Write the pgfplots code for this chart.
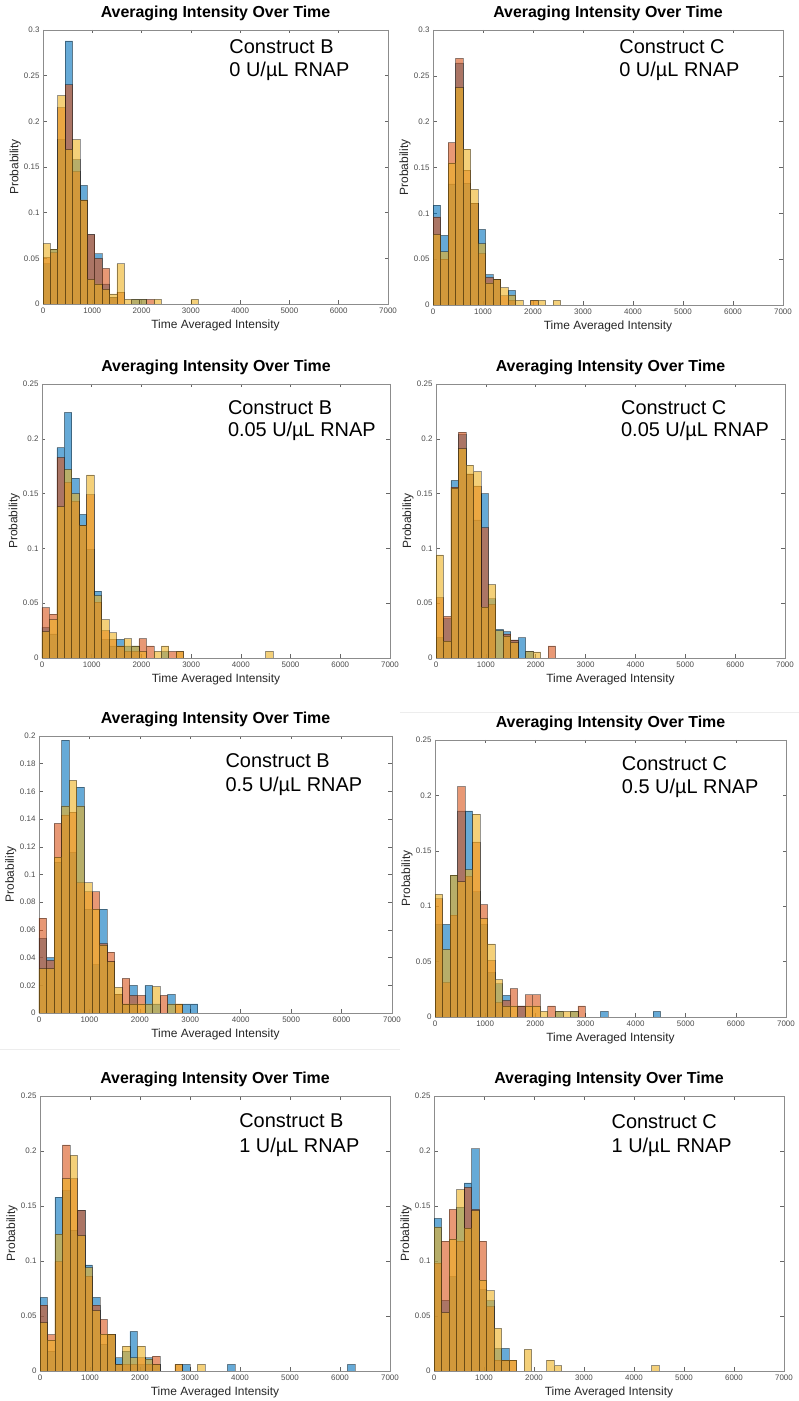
\documentclass[border=0pt]{standalone}
\usepackage{fontspec}
\setmainfont{Liberation Sans}
\usepackage{pgfplots}
\pgfplotsset{compat=1.18}
\definecolor{mblue}{rgb}{0,0.447,0.741}
\definecolor{mred}{rgb}{0.85,0.325,0.098}
\definecolor{myel}{rgb}{0.929,0.694,0.125}
\pgfplotsset{
 hb/.style={ybar, bar width=150, bar shift=0pt, fill opacity=0.6, draw=black, draw opacity=0.4, line width=0.7bp},
 panel/.style={scale only axis, anchor=south west, xmin=0, xmax=7000, ymin=0,
  xtick={0,1000,2000,3000,4000,5000,6000,7000},
  xticklabels={0,1000,2000,3000,4000,5000,6000,7000},
  tick align=inside, major tick length=3.5bp,
  tick style={black!60, line width=0.5bp},
  axis line style={black!45, line width=0.7bp},
  ticklabel style={font=\fontsize{8}{8}\selectfont, text=black!70},
  title={Averaging Intensity Over Time},
  title style={font=\bfseries\fontsize{16}{16}\selectfont, at={(axis description cs:0.5,1)}, anchor=center, yshift=11bp},
  xlabel={Time Averaged Intensity},
  xlabel style={font=\fontsize{12}{12}\selectfont, at={(axis description cs:0.5,0)}, anchor=center, yshift=-21bp, text=black!85},
  ylabel={Probability},
  ylabel style={font=\fontsize{12}{12}\selectfont, at={(axis description cs:-0.08,0.5)}, anchor=center, text=black!85},
 },
 yA/.style={ymax=0.3, ytick={0,0.05,0.1,0.15,0.2,0.25,0.3}, yticklabels={0,0.05,0.1,0.15,0.2,0.25,0.3}},
 yB/.style={ymax=0.25, ytick={0,0.05,0.1,0.15,0.2,0.25}, yticklabels={0,0.05,0.1,0.15,0.2,0.25}},
 yC/.style={ymax=0.2, ytick={0,0.02,0.04,0.06,0.08,0.1,0.12,0.14,0.16,0.18,0.2}, yticklabels={0,0.02,0.04,0.06,0.08,0.1,0.12,0.14,0.16,0.18,0.2}},
}
\newcommand{\ann}[5]{%
 \node[anchor=base west, inner sep=0pt, font=\fontsize{20}{20}\selectfont] at (rel axis cs:#1,#2) {#4};
 \node[anchor=base west, inner sep=0pt, font=\fontsize{20}{20}\selectfont] at (rel axis cs:#1,#3) {#5};}
\begin{document}
\begin{tikzpicture}
\useasboundingbox (0bp,0bp) rectangle (799bp,1401bp);
\draw[black!7, line width=1bp] (400bp,688bp) -- (799bp,688bp);
\draw[black!7, line width=1bp] (0bp,351bp) -- (400bp,351bp);

% ---------- Panel 1: Construct B, 0 U/uL ----------
\begin{axis}[panel, yA, at={(43bp,1097bp)}, width=345bp, height=274bp]
\addplot[hb, fill=mblue] coordinates {(75,0.044) (225,0.060) (375,0.180) (525,0.288) (675,0.158) (825,0.130) (975,0.076) (1125,0.055) (1275,0.022) (1425,0.007) (1875,0.005) (2025,0.005)};
\addplot[hb, fill=mred] coordinates {(75,0.051) (225,0.056) (375,0.215) (525,0.240) (675,0.145) (825,0.114) (975,0.076) (1125,0.050) (1275,0.039) (1425,0.007) (1575,0.013) (2175,0.005)};
\addplot[hb, fill=myel] coordinates {(75,0.066) (225,0.060) (375,0.228) (525,0.169) (675,0.180) (825,0.114) (975,0.027) (1125,0.022) (1275,0.016) (1425,0.011) (1575,0.044) (1725,0.005) (1875,0.005) (2025,0.005) (2325,0.005) (3075,0.005)};
\ann{0.540}{0.915}{0.830}{Construct B}{0 U/µL RNAP}
\end{axis}

% ---------- Panel 2: Construct C, 0 U/uL ----------
\begin{axis}[panel, yA, at={(433bp,1096bp)}, width=350bp, height=275bp]
\addplot[hb, fill=mblue] coordinates {(75,0.109) (225,0.076) (375,0.132) (525,0.264) (675,0.133) (825,0.111) (975,0.0825) (1125,0.033) (1275,0.028) (1575,0.016)};
\addplot[hb, fill=mred] coordinates {(75,0.096) (225,0.050) (375,0.177) (525,0.269) (675,0.147) (825,0.111) (975,0.056) (1125,0.030) (1275,0.028) (1425,0.010) (1575,0.005) (2025,0.005)};
\addplot[hb, fill=myel] coordinates {(75,0.077) (225,0.058) (375,0.155) (525,0.237) (675,0.170) (825,0.126) (975,0.067) (1125,0.024) (1275,0.028) (1425,0.019) (1575,0.011) (1725,0.005) (2025,0.005) (2175,0.005) (2475,0.005)};
\ann{0.532}{0.915}{0.830}{Construct C}{0 U/µL RNAP}
\end{axis}

% ---------- Panel 3: Construct B, 0.05 U/uL ----------
\begin{axis}[panel, yB, at={(42bp,743bp)}, width=348bp, height=274bp]
\addplot[hb, fill=mblue] coordinates {(75,0.028) (225,0.022) (375,0.192) (525,0.224) (675,0.164) (825,0.131) (975,0.099) (1125,0.061) (1275,0.017) (1425,0.011) (1575,0.017) (1725,0.011) (1875,0.011) (2475,0.006)};
\addplot[hb, fill=mred] coordinates {(75,0.046) (225,0.040) (375,0.183) (525,0.160) (675,0.143) (825,0.121) (975,0.149) (1125,0.051) (1275,0.025) (1425,0.017) (1575,0.011) (1725,0.006) (1875,0.006) (2025,0.0176) (2175,0.011) (2625,0.006) (2775,0.006)};
\addplot[hb, fill=myel] coordinates {(75,0.024) (225,0.035) (375,0.138) (525,0.172) (675,0.150) (825,0.121) (975,0.167) (1125,0.057) (1275,0.035) (1425,0.023) (1575,0.011) (1725,0.0176) (1875,0.011) (2025,0.006) (2325,0.006) (2475,0.011) (2775,0.006) (4575,0.006)};
\ann{0.534}{0.889}{0.809}{Construct B}{0.05 U/µL RNAP}
\end{axis}

% ---------- Panel 4: Construct C, 0.05 U/uL ----------
\begin{axis}[panel, yB, at={(436bp,743bp)}, width=349bp, height=274bp]
\addplot[hb, fill=mblue] coordinates {(75,0.0185) (225,0.036) (375,0.162) (525,0.204) (675,0.168) (825,0.126) (975,0.150) (1125,0.054) (1275,0.026) (1425,0.024) (1575,0.0165) (1725,0.0185) (1875,0.006)};
\addplot[hb, fill=mred] coordinates {(75,0.055) (225,0.038) (375,0.156) (525,0.206) (675,0.168) (825,0.157) (975,0.119) (1125,0.049) (1425,0.022) (1575,0.0165) (2325,0.011)};
\addplot[hb, fill=myel] coordinates {(75,0.094) (225,0.0155) (375,0.155) (525,0.191) (675,0.176) (825,0.170) (975,0.0465) (1125,0.067) (1275,0.025) (1425,0.020) (1575,0.014) (1875,0.006) (2025,0.0055)};
\ann{0.530}{0.889}{0.809}{Construct C}{0.05 U/µL RNAP}
\end{axis}

% ---------- Panel 5: Construct B, 0.5 U/uL ----------
\begin{axis}[panel, yC, at={(39bp,388bp)}, width=353bp, height=277bp]
\addplot[hb, fill=mblue] coordinates {(75,0.054) (225,0.040) (375,0.109) (525,0.197) (675,0.116) (825,0.163) (975,0.075) (1125,0.035) (1275,0.075) (1425,0.037) (1575,0.0137) (1725,0.0065) (1875,0.020) (2175,0.020) (2325,0.0065) (2625,0.0135) (2925,0.0065) (3075,0.0065)};
\addplot[hb, fill=mred] coordinates {(75,0.0685) (225,0.038) (375,0.137) (525,0.143) (675,0.145) (825,0.094) (975,0.0875) (1125,0.0875) (1275,0.050) (1425,0.044) (1575,0.0137) (1725,0.025) (1875,0.0127) (2025,0.0127) (2475,0.0127) (2775,0.0065)};
\addplot[hb, fill=myel] coordinates {(75,0.032) (225,0.032) (375,0.1125) (525,0.1495) (675,0.168) (825,0.1495) (975,0.094) (1125,0.075) (1275,0.049) (1425,0.037) (1575,0.0185) (1725,0.0065) (1875,0.0065) (2025,0.0065) (2175,0.0065) (2325,0.019) (2625,0.0065) (2775,0.0065)};
\ann{0.528}{0.888}{0.798}{Construct B}{0.5 U/µL RNAP}
\end{axis}

% ---------- Panel 6: Construct C, 0.5 U/uL ----------
\begin{axis}[panel, yB, at={(435bp,384bp)}, width=351bp, height=277bp]
\addplot[hb, fill=mblue] coordinates {(75,0.0835) (225,0.0835) (375,0.128) (525,0.186) (675,0.186) (825,0.113) (975,0.0835) (1125,0.040) (1275,0.030) (1425,0.0195) (1725,0.010) (2475,0.005) (2775,0.005) (3375,0.005) (4425,0.005)};
\addplot[hb, fill=mred] coordinates {(75,0.1067) (225,0.031) (375,0.092) (525,0.208) (675,0.127) (825,0.158) (975,0.1015) (1125,0.051) (1275,0.013) (1425,0.015) (1575,0.0255) (1725,0.010) (1875,0.020) (2025,0.020) (2325,0.010) (2925,0.010)};
\addplot[hb, fill=myel] coordinates {(75,0.1106) (225,0.061) (375,0.128) (525,0.122) (675,0.133) (825,0.183) (975,0.0887) (1125,0.066) (1275,0.0337) (1425,0.010) (1575,0.010) (1875,0.010) (2025,0.010) (2175,0.005) (2475,0.005) (2625,0.005) (2775,0.005)};
\ann{0.532}{0.889}{0.806}{Construct C}{0.5 U/µL RNAP}
\end{axis}

% ---------- Panel 7: Construct B, 1 U/uL ----------
\begin{axis}[panel, yB, at={(40bp,30bp)}, width=350bp, height=275bp]
\addplot[hb, fill=mblue] coordinates {(75,0.067) (225,0.018) (375,0.158) (525,0.164) (675,0.128) (825,0.146) (975,0.0964) (1125,0.067) (1275,0.0245) (1425,0.0336) (1575,0.012) (1725,0.018) (1875,0.036) (2025,0.006) (2175,0.012) (2325,0.006) (2925,0.006) (3825,0.006) (6225,0.006)};
\addplot[hb, fill=mred] coordinates {(75,0.060) (225,0.033) (375,0.0994) (525,0.2055) (675,0.175) (825,0.146) (975,0.086) (1125,0.060) (1275,0.047) (1425,0.0336) (1575,0.006) (1725,0.006) (1875,0.006) (2025,0.012) (2175,0.006) (2325,0.0136) (2775,0.006)};
\addplot[hb, fill=myel] coordinates {(75,0.044) (225,0.028) (375,0.1245) (525,0.175) (675,0.196) (825,0.123) (975,0.094) (1125,0.055) (1275,0.0336) (1425,0.0336) (1575,0.006) (1725,0.0227) (1875,0.012) (2025,0.0227) (2175,0.011) (2325,0.006) (2775,0.006) (3225,0.006)};
\ann{0.569}{0.884}{0.796}{Construct B}{1 U/µL RNAP}
\end{axis}

% ---------- Panel 8: Construct C, 1 U/uL ----------
\begin{axis}[panel, yB, at={(434bp,30bp)}, width=350bp, height=275bp]
\addplot[hb, fill=mblue] coordinates {(75,0.1388) (225,0.0645) (375,0.0857) (525,0.149) (675,0.171) (825,0.202) (975,0.074) (1125,0.064) (1275,0.0206) (1425,0.0206)};
\addplot[hb, fill=mred] coordinates {(75,0.098) (225,0.118) (375,0.147) (525,0.118) (675,0.167) (825,0.147) (975,0.118) (1125,0.0585) (1275,0.010) (1425,0.010) (1575,0.010)};
\addplot[hb, fill=myel] coordinates {(75,0.131) (225,0.053) (375,0.120) (525,0.165) (675,0.130) (825,0.1458) (975,0.0827) (1125,0.073) (1275,0.0388) (1425,0.010) (1575,0.010) (1875,0.0197) (2325,0.010) (2475,0.005) (4425,0.005)};
\ann{0.507}{0.883}{0.793}{Construct C}{1 U/µL RNAP}
\end{axis}
\end{tikzpicture}
\end{document}
